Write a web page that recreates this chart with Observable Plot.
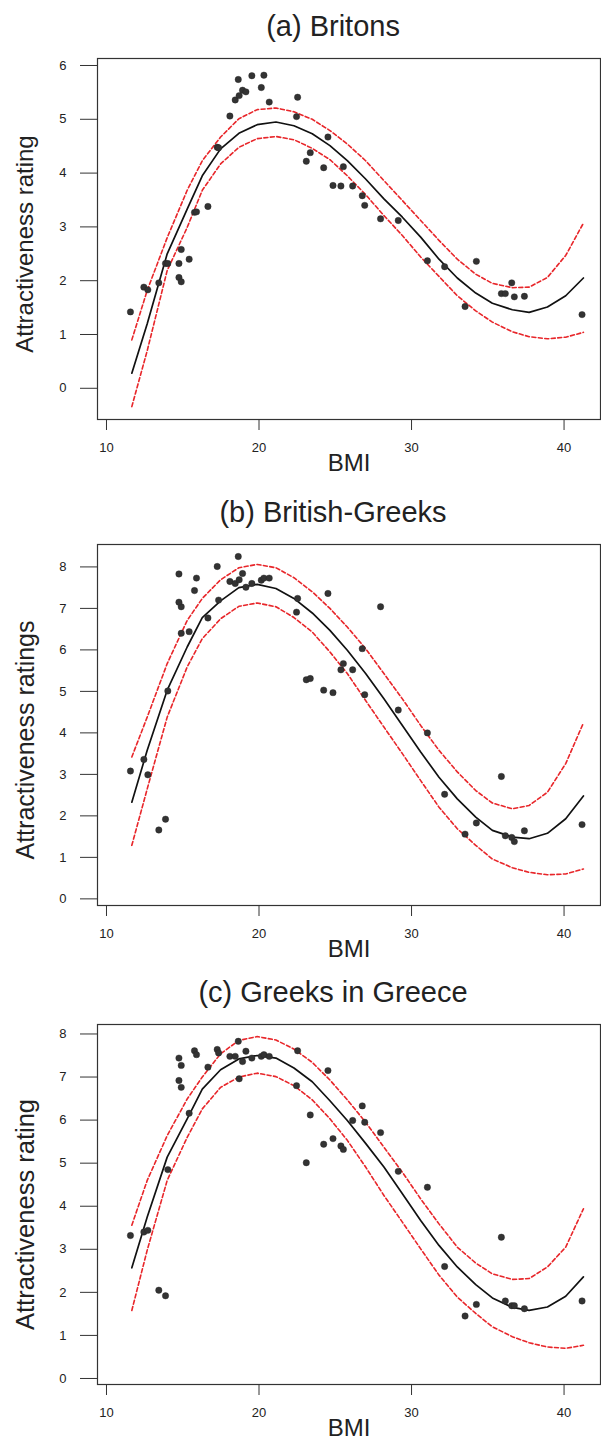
<!DOCTYPE html>
<html>
<head>
<meta charset="utf-8">
<script src="https://cdn.jsdelivr.net/npm/d3@7"></script>
<script src="https://cdn.jsdelivr.net/npm/@observablehq/plot@0.6"></script>
<style>
  html, body { margin: 0; padding: 0; background: #fff; }
  #chart { width: 601px; }
  #chart svg { display: block; }
</style>
</head>
<body>
<div id="chart"></div>
<script>
// ---- Stimulus BMI values (shared by the three panels) ----
const bmi = [11.57, 12.45, 12.71, 13.43, 13.87, 14.02, 14.75, 14.90, 14.75, 14.90,
  15.42, 15.77, 15.90, 16.65, 17.26, 17.35, 18.09, 18.44, 18.70, 18.64,
  18.92, 19.14, 19.53, 20.15, 20.32, 20.67, 22.46, 22.53, 23.10, 23.36,
  24.24, 24.52, 24.85, 25.37, 25.53, 26.14, 26.77, 26.93, 27.97, 29.13,
  31.04, 32.17, 33.51, 34.25, 35.89, 36.15, 36.57, 36.74, 37.40, 41.18];

// ---- Mean attractiveness ratings per panel ----
const ratingsBritons = [1.42, 1.88, 1.83, 1.96, 2.32, 2.32, 2.32, 2.58, 2.06, 1.98,
  2.40, 3.27, 3.28, 3.38, 4.48, 4.47, 5.06, 5.36, 5.44, 5.74,
  5.54, 5.51, 5.81, 5.59, 5.82, 5.32, 5.05, 5.41, 4.22, 4.38,
  4.10, 4.67, 3.77, 3.76, 4.12, 3.76, 3.58, 3.40, 3.15, 3.12,
  2.37, 2.26, 1.52, 2.36, 1.76, 1.76, 1.96, 1.70, 1.71, 1.37];
const ratingsBritishGreeks = [3.08, 3.36, 2.99, 1.66, 1.92, 5.01, 7.83, 7.04, 7.15, 6.40,
  6.44, 7.43, 7.73, 6.77, 8.01, 7.20, 7.65, 7.60, 7.69, 8.25,
  7.84, 7.51, 7.60, 7.68, 7.73, 7.73, 6.91, 7.24, 5.28, 5.31,
  5.03, 7.36, 4.97, 5.52, 5.67, 5.52, 6.03, 4.92, 7.04, 4.55,
  4.00, 2.52, 1.56, 1.83, 2.95, 1.52, 1.48, 1.38, 1.64, 1.79];
const ratingsGreeks = [3.32, 3.40, 3.44, 2.05, 1.92, 4.85, 7.44, 7.27, 6.92, 6.76,
  6.16, 7.61, 7.52, 7.23, 7.64, 7.56, 7.48, 7.48, 6.96, 7.83,
  7.36, 7.60, 7.44, 7.48, 7.52, 7.48, 6.80, 7.61, 5.01, 6.12,
  5.44, 7.15, 5.57, 5.40, 5.32, 5.99, 6.33, 5.95, 5.71, 4.81,
  4.44, 2.60, 1.45, 1.72, 3.28, 1.80, 1.69, 1.69, 1.62, 1.80];

// ---- Fitted curve and confidence band ----
const curveBmi = [11.66, 12.67, 13.98, 15.29, 16.28, 17.48, 18.68, 19.88, 21.11, 22.29,
  23.49, 24.65, 25.79, 26.99, 28.19, 29.40, 30.60, 31.80, 33.00, 34.21,
  35.30, 36.61, 37.71, 38.91, 40.11, 41.27];

const fitBritons   = [0.28, 1.20, 2.50, 3.33, 3.95, 4.45, 4.74, 4.90, 4.95, 4.88, 4.73, 4.51, 4.23, 3.89, 3.52, 3.18, 2.81, 2.40, 2.05, 1.77, 1.58, 1.46, 1.41, 1.51, 1.72, 2.05];
const upperBritons = [0.90, 1.82, 2.80, 3.68, 4.23, 4.67, 5.01, 5.18, 5.21, 5.14, 5.00, 4.79, 4.54, 4.23, 3.86, 3.49, 3.12, 2.75, 2.40, 2.12, 1.95, 1.87, 1.88, 2.06, 2.47, 3.07];
const lowerBritons = [-0.34, 0.70, 2.19, 2.99, 3.68, 4.17, 4.48, 4.64, 4.68, 4.62, 4.46, 4.25, 3.95, 3.60, 3.21, 2.84, 2.44, 2.08, 1.72, 1.44, 1.23, 1.05, 0.96, 0.92, 0.95, 1.04];

const fitBritishGreeks   = [2.33, 3.58, 5.03, 6.07, 6.78, 7.18, 7.50, 7.58, 7.48, 7.24, 6.89, 6.47, 5.99, 5.43, 4.82, 4.18, 3.54, 2.93, 2.41, 1.97, 1.65, 1.49, 1.45, 1.58, 1.93, 2.48];
const upperBritishGreeks = [3.42, 4.38, 5.67, 6.71, 7.24, 7.69, 7.98, 8.06, 7.98, 7.74, 7.40, 7.00, 6.55, 6.03, 5.43, 4.82, 4.18, 3.58, 3.06, 2.61, 2.31, 2.17, 2.25, 2.57, 3.26, 4.24];
const lowerBritishGreeks = [1.29, 2.65, 4.38, 5.59, 6.27, 6.75, 7.05, 7.13, 7.04, 6.78, 6.43, 5.95, 5.43, 4.78, 4.14, 3.50, 2.85, 2.21, 1.69, 1.29, 0.96, 0.75, 0.64, 0.58, 0.60, 0.72];

const fitGreeks   = [2.57, 3.75, 5.14, 6.03, 6.72, 7.17, 7.42, 7.50, 7.44, 7.21, 6.89, 6.45, 5.99, 5.46, 4.91, 4.29, 3.67, 3.09, 2.59, 2.18, 1.87, 1.65, 1.58, 1.66, 1.91, 2.36];
const upperGreeks = [3.56, 4.60, 5.64, 6.49, 7.00, 7.54, 7.85, 7.94, 7.86, 7.65, 7.34, 6.93, 6.47, 5.95, 5.37, 4.79, 4.17, 3.59, 3.05, 2.68, 2.43, 2.30, 2.32, 2.59, 3.05, 3.94];
const lowerGreeks = [1.58, 2.98, 4.60, 5.60, 6.26, 6.76, 7.00, 7.09, 7.01, 6.80, 6.47, 6.03, 5.53, 4.91, 4.25, 3.63, 3.01, 2.40, 1.89, 1.51, 1.20, 0.97, 0.83, 0.73, 0.70, 0.77];

// ---- Tick labels and texts ----
const xTicks = [10, 20, 30, 40];
const yTicksBritons = [0, 1, 2, 3, 4, 5, 6];
const yTicksGreek = [0, 1, 2, 3, 4, 5, 6, 7, 8];
const titles = ["(a) Britons", "(b) British-Greeks", "(c) Greeks in Greece"];
const yLabels = ["Attractiveness rating", "Attractiveness ratings", "Attractiveness rating"];
const xLabel = "BMI";

const RED = "#e8262a";
const FONT = "'Liberation Sans', Arial, Helvetica, sans-serif";

function panel(cfg) {
  const pts = bmi.map((b, i) => ({bmi: b, rating: cfg.ratings[i]}));
  const curve = (arr) => curveBmi.map((b, i) => ({bmi: b, v: arr[i]}));
  return Plot.plot({
    width: 601,
    height: cfg.height,
    marginLeft: 97,
    marginRight: 1,
    marginTop: cfg.marginTop,
    marginBottom: cfg.marginBottom,
    x: {domain: [9.41, 42.39]},
    y: {domain: cfg.yDomain},
    style: {fontFamily: FONT, fontSize: "13px", color: "#222", background: "#fff", overflow: "visible"},
    marks: [
      Plot.frame({stroke: "#333", strokeWidth: 1.2}),
      Plot.axisX({ticks: xTicks, tickFormat: d3.format("d"), tickSize: 11, tickPadding: 12, label: null, fontSize: 13, stroke: "#333"}),
      Plot.axisY({ticks: cfg.yTicks, tickFormat: d3.format("d"), tickSize: 17, tickPadding: 14, label: null, fontSize: 13, stroke: "#333"}),
      Plot.line(curve(cfg.upper), {x: "bmi", y: "v", stroke: RED, strokeWidth: 1.6, strokeDasharray: "4,2.5"}),
      Plot.line(curve(cfg.lower), {x: "bmi", y: "v", stroke: RED, strokeWidth: 1.6, strokeDasharray: "4,2.5"}),
      Plot.line(curve(cfg.fit), {x: "bmi", y: "v", stroke: "#111", strokeWidth: 1.7}),
      Plot.dot(pts, {x: "bmi", y: "rating", r: 3.2, fill: "#333", stroke: "#222", strokeWidth: 0.4}),
      Plot.text([cfg.title], {text: d => d, frameAnchor: "top", textAnchor: "middle", lineAnchor: "top", dx: -16, dy: cfg.titleDy, fontSize: 29, fill: "#222"}),
      Plot.text([xLabel], {text: d => d, frameAnchor: "bottom", textAnchor: "middle", lineAnchor: "top", dy: 34, fontSize: 24, fill: "#222"}),
      Plot.text([cfg.yLabel], {text: d => d, frameAnchor: "left", textAnchor: "middle", lineAnchor: "middle", rotate: -90, dx: -72, dy: cfg.yLabelDy, fontSize: cfg.yLabelSize, fill: "#222"})
    ]
  });
}

const chart = document.getElementById("chart");
chart.appendChild(panel({
  ratings: ratingsBritons, fit: fitBritons, upper: upperBritons, lower: lowerBritons,
  yDomain: [-0.58, 6.13], yTicks: yTicksBritons, title: titles[0], yLabel: yLabels[0],
  height: 485, marginTop: 58, marginBottom: 66, titleDy: -43, yLabelDy: 5, yLabelSize: 24
}));
chart.appendChild(panel({
  ratings: ratingsBritishGreeks, fit: fitBritishGreeks, upper: upperBritishGreeks, lower: lowerBritishGreeks,
  yDomain: [-0.16, 8.54], yTicks: yTicksGreek, title: titles[1], yLabel: yLabels[1],
  height: 480, marginTop: 59, marginBottom: 60, titleDy: -43, yLabelDy: 15, yLabelSize: 25
}));
chart.appendChild(panel({
  ratings: ratingsGreeks, fit: fitGreeks, upper: upperGreeks, lower: lowerGreeks,
  yDomain: [-0.14, 8.22], yTicks: yTicksGreek, title: titles[2], yLabel: yLabels[2],
  height: 476, marginTop: 59, marginBottom: 57, titleDy: -43, yLabelDy: 10, yLabelSize: 25.5
}));
</script>
</body>
</html>
